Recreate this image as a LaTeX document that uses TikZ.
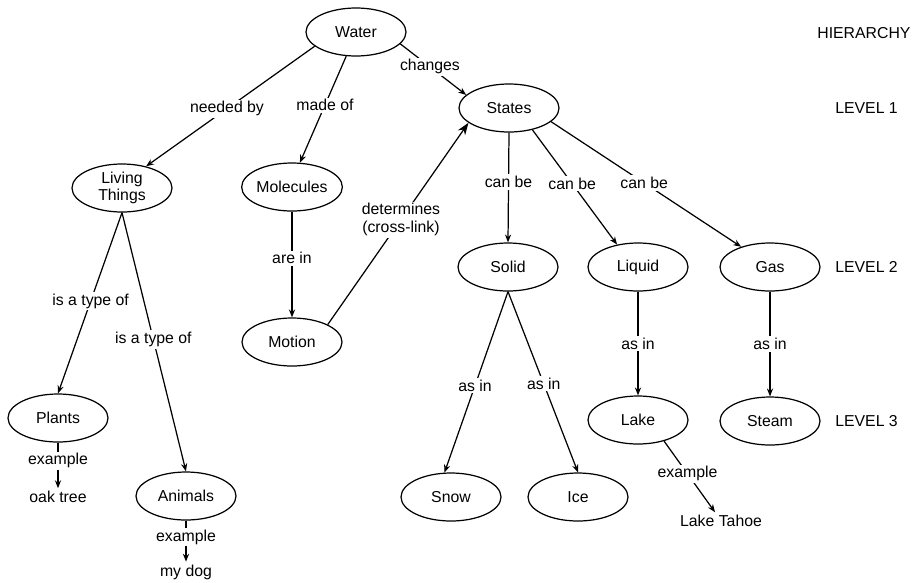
\documentclass[tikz,border=0pt]{standalone}
\usepackage{fontspec}
\setmainfont{Liberation Sans}
\usetikzlibrary{arrows.meta,shapes.geometric,positioning}

\begin{document}
\begin{tikzpicture}
[x=0.02cm, y=-0.02cm, font=\fontsize{9}{10}\selectfont,
% STYLES
% The concept style is used to draw the ellipses
concept/.style={ellipse, draw, line width=0.7pt, minimum width=2cm, minimum height=0.96cm, inner sep=0pt, align=center},
% The example style is used for the plain leaves
example/.style={inner sep=1.5pt},
% The link style is used to label the connectors
link/.style={fill=white, inner sep=1pt, align=center},
% The level style is used for the hierarchy column
level/.style={anchor=west, inner sep=0pt},
connect/.style={-{Stealth[length=4.5pt,width=3.5pt]}, line width=0.7pt}]

\useasboundingbox (0,0) rectangle (916,582);

% Draw concepts
\node [concept] (water) at (356,32) {Water};
\node [concept] (states) at (509,108) {States};
\node [concept] (living_things) at (122,188) {Living\\Things};
\node [concept] (molecules) at (292,187) {Molecules};
\node [concept] (motion) at (292,342) {Motion};
\node [concept] (solid) at (508,267) {Solid};
\node [concept] (liquid) at (638,267) {Liquid};
\node [concept] (gas) at (770,267) {Gas};
\node [concept] (plants) at (58,418) {Plants};
\node [concept] (animals) at (186,496) {Animals};
\node [concept] (lake) at (638,420) {Lake};
\node [concept] (steam) at (770,421) {Steam};
\node [concept] (snow) at (451,497) {Snow};
\node [concept] (ice) at (578,497) {Ice};

% Examples
\node [example] (oak_tree) at (58,497) {oak tree};
\node [example] (my_dog) at (186,572) {my dog};
\node [example] (lake_tahoe) at (721,521) {Lake Tahoe};

% Hierarchy
\node [level] (hierarchy) at (817,33) {HIERARCHY};
\node [level] (level1) at (835,108) {LEVEL 1};
\node [level] (level2) at (835,267) {LEVEL 2};
\node [level] (level3) at (835,421) {LEVEL 3};

% Draw the links between concepts
\path[connect]
(water.199) edge node[link, pos=0.52] {needed by} (living_things.42)
(water.248) edge node[link, pos=0.46] {made of} (molecules.72)
(water.345) edge node[link, pos=0.45] {changes} (states.163)
(molecules.south) edge node[link, pos=0.44] {are in} (motion.north)
(living_things.south) edge node[link, pos=0.49] {is a type of} (plants.north)
(living_things.south) edge node[link, pos=0.49] {is a type of} (animals.north)
(plants.south) edge node[link, pos=0.4] {example} (oak_tree.north)
(animals.south) edge node[link, pos=0.4] {example} (my_dog.north)
(states.south) edge node[link, pos=0.45] {can be} (solid.north)
(states.317) edge node[link, pos=0.47] {can be} (liquid.133)
(states.342) edge node[link, pos=0.49] {can be} (gas.145)
(solid.south) edge node[link, pos=0.52] {as in} (snow.105)
(solid.south) edge node[link, pos=0.51] {as in} (ice.north)
(liquid.south) edge node[link, pos=0.5] {as in} (lake.north)
(gas.south) edge node[link, pos=0.5] {as in} (steam.north)
(lake.321) edge node[link, pos=0.46] {example} ([xshift=-0.12cm]lake_tahoe.north);

% cross-link
\draw[line width=0.7pt, -{Stealth[length=7pt,width=5pt]}] (motion.26) -- node[link, pos=0.52] {determines\\(cross-link)} (states.200);

\end{tikzpicture}
\end{document}
